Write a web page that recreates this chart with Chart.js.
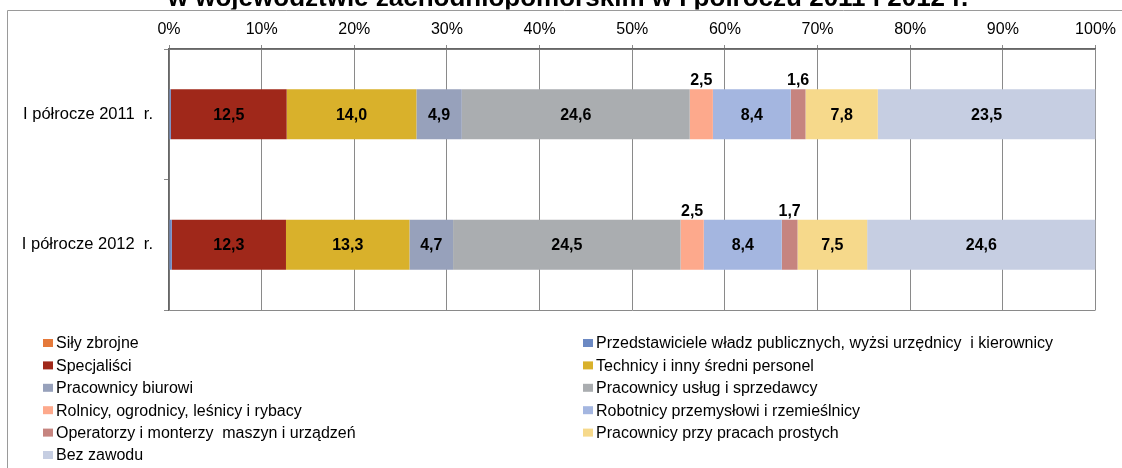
<!DOCTYPE html>
<html>
<head>
<meta charset="utf-8">
<script src="https://cdn.jsdelivr.net/npm/chart.js@4/dist/chart.umd.min.js"></script>
<style>
html,body{margin:0;padding:0;background:#fff;}
#wrap{width:1122px;height:468px;position:relative;}
</style>
</head>
<body>
<div id="wrap"><canvas id="c" width="1122" height="468"></canvas></div>
<script>
const titleText = "w województwie zachodniopomorskim w I półroczu 2011 i 2012 r.";
const categories = ["I półrocze 2011  r.", "I półrocze 2012  r."];
const seriesNames = [
  "Siły zbrojne",
  "Przedstawiciele władz publicznych, wyżsi urzędnicy  i kierownicy",
  "Specjaliści",
  "Technicy i inny średni personel",
  "Pracownicy biurowi",
  "Pracownicy usług i sprzedawcy",
  "Rolnicy, ogrodnicy, leśnicy i rybacy",
  "Robotnicy przemysłowi i rzemieślnicy",
  "Operatorzy i monterzy  maszyn i urządzeń",
  "Pracownicy przy pracach prostych",
  "Bez zawodu"
];
const silyZbrojne     = [0.0, 0.0];
const przedstawiciele = [0.2, 0.3];
const specjalisci     = [12.5, 12.3];
const technicy        = [14.0, 13.3];
const biurowi         = [4.9, 4.7];
const uslugi          = [24.6, 24.5];
const rolnicy         = [2.5, 2.5];
const robotnicy       = [8.4, 8.4];
const operatorzy      = [1.6, 1.7];
const proste          = [7.8, 7.5];
const bezZawodu       = [23.5, 24.6];
const tickLabels = ["0%","10%","20%","30%","40%","50%","60%","70%","80%","90%","100%"];
const colors = ["#E5793A","#6C89C3","#A0281A","#D9B12B","#97A1BB","#AAADB0","#FDA98C","#A4B6E0","#C6847F","#F6D98B","#C6CEE2"];

const seriesValues = [silyZbrojne, przedstawiciele, specjalisci, technicy, biurowi, uslugi, rolnicy, robotnicy, operatorzy, proste, bezZawodu];
const FONT = "'Liberation Sans', Arial, sans-serif";

// 100% stacked: each category is shown as share of its total
const totals = categories.map((_, j) => seriesValues.reduce((s, arr) => s + arr[j], 0));

const datasets = seriesValues.map((vals, i) => ({
  label: seriesNames[i],
  data: vals.map((v, j) => v / totals[j] * 100),
  raw: vals,
  backgroundColor: colors[i],
  borderWidth: 0,
  barPercentage: 1.0,
  categoryPercentage: 0.385
}));

const fmt = v => v.toFixed(1).replace('.', ',');

const decor = {
  id: 'decor',
  beforeDraw(chart) {
    const ctx = chart.ctx;
    ctx.save();
    ctx.fillStyle = '#fff';
    ctx.fillRect(0, 0, chart.width, chart.height);
    ctx.strokeStyle = '#9a9a9a';
    ctx.lineWidth = 1;
    ctx.beginPath();
    ctx.moveTo(7.5, 468);
    ctx.lineTo(7.5, 10.5);
    ctx.lineTo(1122, 10.5);
    ctx.stroke();
    ctx.fillStyle = '#000';
    ctx.font = "bold 26px " + FONT;
    ctx.textAlign = 'center';
    ctx.textBaseline = 'alphabetic';
    ctx.beginPath();
    ctx.rect(0, 0, 1122, 9.5);
    ctx.clip();
    ctx.fillText(titleText, 568, 6);
    ctx.restore();
  },
  afterDatasetsDraw(chart) {
    const ctx = chart.ctx;
    ctx.save();
    ctx.font = "bold 16px " + FONT;
    ctx.fillStyle = '#000';
    ctx.textAlign = 'center';
    chart.data.datasets.forEach((ds, di) => {
      const meta = chart.getDatasetMeta(di);
      meta.data.forEach((bar, j) => {
        const v = ds.raw[j];
        if (v < 1) return;
        const p = bar.getProps(['x','y','base','height'], true);
        const cx = (p.x + p.base) / 2;
        if (v < 4) {
          ctx.textBaseline = 'alphabetic';
          ctx.fillText(fmt(v), cx, p.y - p.height / 2 - 4);
        } else {
          ctx.textBaseline = 'middle';
          ctx.fillText(fmt(v), cx, p.y + 1);
        }
      });
    });
    ctx.font = "16px " + FONT;
    ctx.textAlign = 'left';
    ctx.textBaseline = 'middle';
    chart.data.datasets.forEach((ds, i) => {
      const col = i % 2, row = Math.floor(i / 2);
      const y = 343 + row * 22.4;
      const mx = col === 0 ? 43 : 583;
      ctx.fillStyle = ds.backgroundColor;
      ctx.fillRect(mx, y - 4, 10, 8);
      ctx.fillStyle = '#000';
      ctx.fillText(ds.label, mx + 13, y + 1);
    });
    ctx.restore();
  }
};

new Chart(document.getElementById('c'), {
  type: 'bar',
  data: { labels: categories, datasets },
  options: {
    indexAxis: 'y',
    responsive: false,
    animation: false,
    layout: { padding: { left: 0, right: 25, top: 0, bottom: 158 } },
    plugins: { legend: { display: false }, tooltip: { enabled: false }, title: { display: false } },
    scales: {
      x: {
        position: 'top',
        stacked: true,
        min: 0, max: 100,
        afterFit(s) { s.height = 49; },
        afterBuildTicks(s) { s.ticks = tickLabels.map((t, i) => ({ value: i * 10 })); },
        ticks: {
          callback: (v, i) => tickLabels[i],
          font: { family: FONT, size: 16 },
          color: '#000',
          padding: 6,
          maxRotation: 0
        },
        grid: { color: '#8a8a8a', lineWidth: 1, tickLength: 4, tickColor: '#8a8a8a' },
        border: { color: '#666', width: 1.5 }
      },
      y: {
        stacked: true,
        afterFit(s) { s.width = 169; },
        ticks: { font: { family: FONT, size: 16.5 }, color: '#000', padding: 11 },
        grid: {
          offset: true,
          color: (c) => c.index === 1 ? 'rgba(0,0,0,0)' : '#8a8a8a',
          tickColor: '#8a8a8a',
          tickLength: 5,
          lineWidth: 1
        },
        border: { color: '#666', width: 1.5 }
      }
    }
  },
  plugins: [decor]
});
</script>
</body>
</html>
